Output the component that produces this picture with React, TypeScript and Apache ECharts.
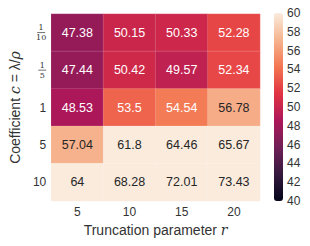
import React, { useEffect, useRef } from "react";
import * as echarts from "echarts";

const xCategories = ["5", "10", "15", "20"];
const yCategories = ["1/10", "1/5", "1", "5", "10"];
const rowValues: number[][] = [
  [47.38, 50.15, 50.33, 52.28],
  [47.44, 50.42, 49.57, 52.34],
  [48.53, 53.5, 54.54, 56.78],
  [57.04, 61.8, 64.46, 65.67],
  [64, 68.28, 72.01, 73.43],
];
const colorbarTicks = [40, 42, 44, 46, 48, 50, 52, 54, 56, 58, 60];
const rocket = ["#03051a", "#35193e", "#701f57", "#ad1759", "#e13342", "#f37651", "#f6b48f", "#faebdd"];

const FONT = "Liberation Sans, Arial, sans-serif";

export default function App() {
  const ref = useRef<HTMLDivElement>(null);
  useEffect(() => {
    const chart = echarts.init(ref.current!, undefined, { renderer: "svg" });
    const data: any[] = [];
    rowValues.forEach((row, yi) =>
      row.forEach((v, xi) => {
        data.push({
          value: [xi, yi, v],
          label: { color: v < 55.5 ? "#ffffff" : "#262626" },
        });
      })
    );
    const fracRich = {
      n: { fontSize: 8, lineHeight: 8, align: "center", fontFamily: "DejaVu Serif", color: "#333" },
      b: { width: 8, height: 0.7, lineHeight: 2, backgroundColor: "#333", align: "center" },
      d: { fontSize: 8, lineHeight: 8, align: "center", fontFamily: "DejaVu Serif", color: "#333" },
    };
    chart.setOption({
      animation: false,
      grid: [
        { left: 47, top: 14, width: 213, height: 187 },
        { left: 274, top: 13, width: 9, height: 188 },
      ],
      xAxis: [
        {
          type: "category",
          data: xCategories,
          gridIndex: 0,
          axisLine: { show: false },
          axisTick: { show: false },
          axisLabel: { fontSize: 12, color: "#333", fontFamily: FONT, margin: 5 },
          name: "Truncation parameter {i|r}",
          nameLocation: "middle",
          nameGap: 21,
          nameTextStyle: {
            fontSize: 14,
            color: "#333",
            fontFamily: FONT,
            rich: { i: { fontSize: 14, fontStyle: "italic", fontFamily: "DejaVu Serif", color: "#333" } },
          },
          splitLine: { show: false },
        },
        { type: "value", gridIndex: 1, show: false, min: 0, max: 1 },
      ],
      yAxis: [
        {
          type: "category",
          data: yCategories,
          inverse: true,
          gridIndex: 0,
          axisLine: { show: false },
          axisTick: { show: false },
          axisLabel: {
            fontSize: 12,
            color: "#333",
            fontFamily: FONT,
            margin: 5,
            formatter: (v: string) => {
              if (v.includes("/")) {
                const [a, b] = v.split("/");
                return `{n|${a}}\n{b|}\n{d|${b}}`;
              }
              return v;
            },
            rich: fracRich,
          },
          name: "Coefficient {i|c} = λ/{i|ρ}",
          nameLocation: "middle",
          nameGap: 29,
          nameRotate: 90,
          nameTextStyle: {
            fontSize: 14,
            color: "#333",
            fontFamily: FONT,
            rich: { i: { fontSize: 14, fontStyle: "italic", fontFamily: "DejaVu Serif", color: "#333" } },
          },
          splitLine: { show: false },
        },
        {
          type: "value",
          gridIndex: 1,
          min: 40,
          max: 60,
          interval: 2,
          position: "right",
          axisLine: { show: false },
          axisTick: { show: false },
          splitLine: { show: false },
          axisLabel: { fontSize: 12, color: "#333", fontFamily: FONT, margin: 4 },
        },
      ],
      visualMap: {
        type: "continuous",
        min: 40,
        max: 60,
        seriesIndex: 0,
        calculable: false,
        hoverLink: false,
        left: 274,
        top: 13,
        itemWidth: 9,
        itemHeight: 188,
        text: ["", ""],
        showLabel: false,
        padding: 0,
        inRange: { color: rocket },
        outOfRange: { color: rocket[rocket.length - 1] },
      },
      series: [
        {
          type: "heatmap",
          xAxisIndex: 0,
          yAxisIndex: 0,
          data,
          itemStyle: { borderColor: "rgba(255,255,255,0.25)", borderWidth: 0.5 },
          label: { show: true, fontSize: 12.5, fontFamily: FONT },
        },
        {
          type: "scatter",
          xAxisIndex: 1,
          yAxisIndex: 1,
          data: colorbarTicks.map((t) => [0.5, t]),
          symbolSize: 0,
          silent: true,
        },
      ],
    });
    return () => chart.dispose();
  }, []);
  return <div ref={ref} style={{ width: 310, height: 246, position: "absolute", left: 0, top: 0 }} />;
}
